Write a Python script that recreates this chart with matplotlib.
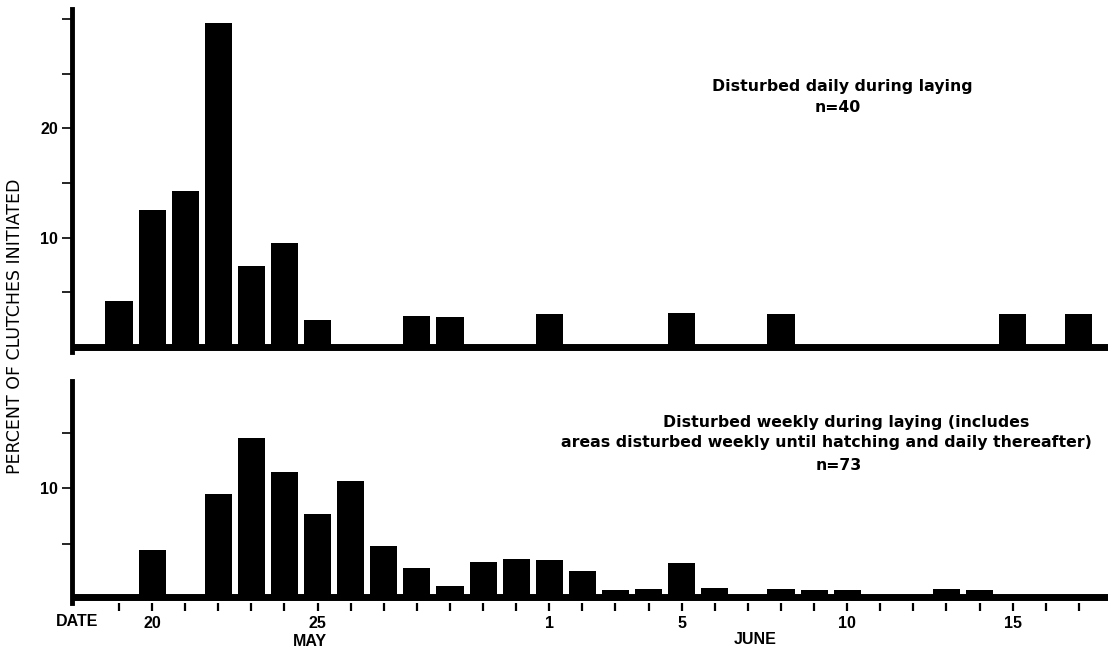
import matplotlib
matplotlib.use('Agg')
import matplotlib.pyplot as plt

plt.rcParams['font.family'] = ['Liberation Sans', 'DejaVu Sans']

# day numbers: May 20 = 20 ... May 31 = 31, June 1 = 32 ... June 17 = 48
daily_days = [19, 20, 21, 22, 23, 24, 25, 28, 29, 32, 36, 39, 46, 48]
daily_pct = [4.2, 12.5, 14.3, 29.6, 7.4, 9.5, 2.5, 2.8, 2.7, 3.0, 3.1, 3.0, 3.0, 3.0]

weekly_days = [20, 22, 23, 24, 25, 26, 27, 28, 29, 30, 31, 32, 33, 34, 35, 36,
               37, 39, 40, 41, 44, 45]
weekly_pct = [4.4, 9.5, 14.5, 11.4, 7.7, 10.6, 4.8, 2.8, 1.2, 3.3, 3.6, 3.5,
              2.5, 0.8, 0.9, 3.2, 1.0, 0.9, 0.8, 0.8, 0.9, 0.8]

tick_days = list(range(19, 49))
label_days = {20: '20', 25: '25', 32: '1', 36: '5', 41: '10', 46: '15'}

top_title = 'Disturbed daily during laying'
top_n = 'n=40'
bot_title1 = 'Disturbed weekly during laying (includes'
bot_title2 = 'areas disturbed weekly until hatching and daily thereafter)'
bot_n = 'n=73'

W, H = 1112, 647
fig = plt.figure(figsize=(W / 100, H / 100), dpi=100)


def px_axes(left, top, right, bottom):
    return fig.add_axes([left / W, 1 - bottom / H, (right - left) / W, (bottom - top) / H])


xlim = (17.58, 48.88)
bar_w = 0.82

# ── top panel ──
ax1 = px_axes(72, 9, 1108, 352)
ax1.bar(daily_days, daily_pct, width=bar_w, color='black', zorder=3)
ax1.axhline(0, color='black', lw=5, zorder=4)
ax1.set_xlim(*xlim)
ax1.set_ylim(-0.46, 30.9)
ax1.set_yticks([5, 10, 15, 20, 25, 30])
ax1.set_yticklabels(['', '10', '', '20', '', ''])
ax1.set_xticks([])

# ── bottom panel ──
ax2 = px_axes(72, 381, 1108, 603)
ax2.bar(weekly_days, weekly_pct, width=bar_w, color='black', zorder=3)
ax2.axhline(0.15, color='black', lw=5, zorder=4)
ax2.set_xlim(*xlim)
ax2.set_ylim(-0.36, 19.64)
ax2.set_yticks([5, 10, 15])
ax2.set_yticklabels(['', '10', ''])
ax2.set_xticks(tick_days)
ax2.set_xticklabels([label_days.get(d, '') for d in tick_days])

for ax in (ax1, ax2):
    for s in ('top', 'right', 'bottom'):
        ax.spines[s].set_visible(False)
    ax.spines['left'].set_linewidth(3.5)
    ax.tick_params(axis='y', direction='out', length=7, width=1.2, pad=3,
                   labelsize=11.5)
    for t in ax.get_yticklabels():
        t.set_fontweight('bold')

ax2.tick_params(axis='x', direction='out', length=6, width=1.6, pad=3,
                labelsize=11.5)
for t in ax2.get_xticklabels():
    t.set_fontweight('bold')

# text labels
tkw = dict(ha='center', va='center', fontsize=11.3, fontweight='bold',
           family='DejaVu Sans')
fig.text(842 / W, 1 - 87 / H, top_title, **tkw)
fig.text(838 / W, 1 - 107 / H, top_n, **tkw)
fig.text(846 / W, 1 - 422 / H, bot_title1, **tkw)
fig.text(826 / W, 1 - 443 / H, bot_title2, **tkw)
fig.text(839 / W, 1 - 465 / H, bot_n, **tkw)

akw = dict(ha='center', va='center', fontsize=11.5, fontweight='bold')
fig.text(77 / W, 1 - 621 / H, 'DATE', **akw)
fig.text(310 / W, 1 - 641 / H, 'MAY', **akw)
fig.text(755 / W, 1 - 639 / H, 'JUNE', **akw)

fig.text(15 / W, 1 - 326 / H, 'PERCENT OF CLUTCHES INITIATED', rotation=90,
         ha='center', va='center', fontsize=12.5, family='DejaVu Sans')

fig.savefig('out.png', dpi=100)
